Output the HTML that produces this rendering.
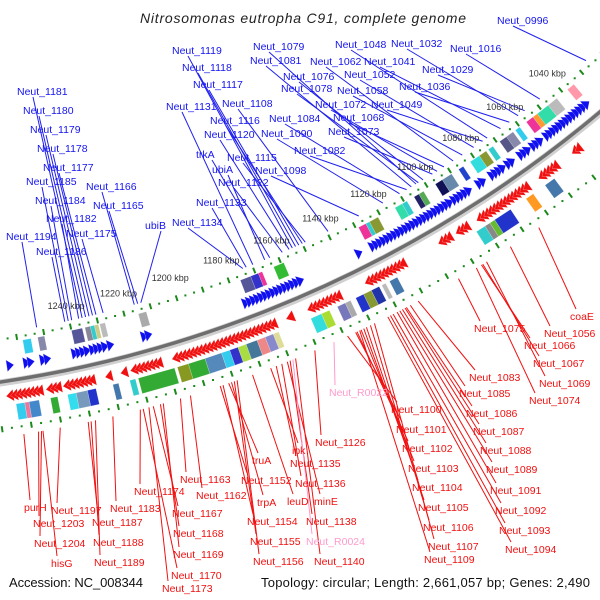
<!DOCTYPE html>
<html><head><meta charset="utf-8"><title>Nitrosomonas eutropha C91 genome map</title>
<style>
html,body{margin:0;padding:0;background:#fff;}
svg{display:block;}
text{font-family:"Liberation Sans","DejaVu Sans",sans-serif;}
</style></head>
<body>
<svg id="chart" width="600" height="600" viewBox="0 0 600 600" xmlns="http://www.w3.org/2000/svg">
<rect x="0" y="0" width="600" height="600" fill="#fff"/>
<g id="lines"></g>
<g id="rings"></g>
<g id="labels"></g>
<text x="303" y="23" text-anchor="middle" font-size="14" font-style="italic" fill="#222" textLength="326">Nitrosomonas eutropha C91, complete genome</text>
<text x="9" y="587" font-size="13" fill="#111" textLength="134">Accession: NC_008344</text>
<text x="261" y="587" font-size="13" fill="#111" textLength="329">Topology: circular; Length: 2,661,057 bp; Genes: 2,490</text>
</svg>
<script>
// ---- data ----
const tickLabelKbp = [1040,1060,1080,1100,1120,1140,1160,1180,1200,1220,1240];
const fwdStart = [1264,1258,1256.5,1252,1250.5,1240.5,1239,1237.5,1236,1234,1232.5,1231,1229.5,1227.5,1215,1213.5,1177,1175.5,1174,1172.5,1171,1169.5,1168,1166.5,1165,1163.5,1162,1160.5,1159,1157.5,1156,1133,1127.5,1126,1124.5,1123,1121.5,1120,1118.5,1117,1115.5,1114,1112.5,1111,1109.5,1108,1106.5,1105,1103.5,1102,1100.5,1099,1097.5,1096,1094,1092.5,1091,1089.5,1088,1083.5,1082,1078,1076.5,1075,1073.5,1071,1069.5,1065.5,1064,1062.5,1060,1058.5,1057,1054,1052.5,1051,1049.5,1048,1046.5,1045,1043.5,1042,1040.5,1039,1037.5,1036];
const fwdEnd = [1262.6,1256.6,1255.1,1250.6,1249.1,1239.1,1237.6,1236.1,1234.6,1232.6,1231.1,1229.6,1228.1,1226.1,1213.6,1212.1,1175.6,1174.1,1172.6,1171.1,1169.6,1168.1,1166.6,1165.1,1163.6,1162.1,1160.6,1159.1,1157.6,1156.1,1154.6,1131.6,1126.1,1124.6,1123.1,1121.6,1120.1,1118.6,1117.1,1115.6,1114.1,1112.6,1111.1,1109.6,1108.1,1106.6,1105.1,1103.6,1102.1,1100.6,1099.1,1097.6,1096.1,1094.6,1092.6,1091.1,1089.6,1088.1,1086.6,1082.1,1080.6,1076.6,1075.1,1073.6,1072.1,1069.6,1068.1,1064.1,1062.6,1061.1,1058.6,1057.1,1055.6,1052.6,1051.1,1049.6,1048.1,1046.6,1045.1,1043.6,1042.1,1040.6,1039.1,1037.6,1036.1,1034.6];
const revStart = [1267,1265.5,1264,1262.5,1261,1259.5,1258,1256.5,1253,1251.5,1250,1247,1245.5,1244,1242.5,1241,1239.5,1238,1232,1226.5,1223,1221.5,1220,1218.5,1217,1215.5,1214,1208,1206.5,1205,1203.5,1202,1200.5,1199,1197.5,1196,1194.5,1193,1191.5,1190,1188.5,1187,1185.5,1184,1182.5,1181,1179.5,1178,1176.5,1175,1173.5,1172,1166,1158,1156.5,1155,1153.5,1152,1150.5,1149,1147.5,1136,1134.5,1133,1131.5,1130,1128.5,1127,1125.5,1124,1122.5,1107,1105.5,1104,1100,1098.5,1097,1091.5,1090,1088.5,1087,1085.5,1084,1082.5,1081,1079.5,1078,1076.5,1075,1073.5,1072,1065.5,1064,1062.5,1061,1059.5,1051,1049.5];
const revEnd = [1265.6,1264.1,1262.6,1261.1,1259.6,1258.1,1256.6,1255.1,1251.6,1250.1,1248.6,1245.6,1244.1,1242.6,1241.1,1239.6,1238.1,1236.6,1230.6,1225.1,1221.6,1220.1,1218.6,1217.1,1215.6,1214.1,1212.6,1206.6,1205.1,1203.6,1202.1,1200.6,1199.1,1197.6,1196.1,1194.6,1193.1,1191.6,1190.1,1188.6,1187.1,1185.6,1184.1,1182.6,1181.1,1179.6,1178.1,1176.6,1175.1,1173.6,1172.1,1170.6,1163,1156.6,1155.1,1153.6,1152.1,1150.6,1149.1,1147.6,1146.1,1134.6,1133.1,1131.6,1130.1,1128.6,1127.1,1125.6,1124.1,1122.6,1121.1,1105,1103.5,1102.3,1098.5,1097,1095.5,1090.1,1088.6,1087.1,1085.6,1084.1,1082.6,1081.1,1079.6,1078.1,1076.6,1075.1,1073.6,1072.1,1070.6,1064.1,1062.6,1061.1,1059.6,1058.1,1049.6,1048.1];
const inBoxStart = [1258,1252.5,1240,1235,1233,1231.5,1229.5,1215,1176,1172,1169,1163,1129,1126,1124.5,1114,1111,1106,1104,1097,1094,1087,1082,1078,1074,1069,1066,1062,1057,1054,1052,1047,1038];
const inBoxEnd   = [1255,1250,1236,1233,1231.5,1230,1227.5,1212,1172,1169,1167.5,1159,1126,1124.5,1121,1111,1109,1104,1102,1094,1090,1085,1078,1075,1072,1066,1063,1060,1054,1052,1047,1043,1035];
const inBoxColor = ['#33ccee','#8888aa','#555599','#888899','#33cccc','#cccc88','#bbbbbb','#aaaaaa','#555599','#3333cc','#ee3399','#33bb33','#ee3399','#33cccc','#889933','#33ddaa','#33cccc','#222266','#55aa55','#111155','#6688aa','#2244cc','#33dddd','#889933','#33cccc','#555588','#8888aa','#33ccee','#ee3399','#ff9933','#33ddaa','#bbbbbb','#ff99aa'];
const outBoxStart = [1264,1261,1259.5,1252,1246,1243,1239,1230,1224,1221,1207,1203,1197,1191,1188,1185,1182,1178,1175,1172,1158,1154,1148,1145,1141,1138,1135,1131,1128,1093.5,1090,1088,1086,1073,1065];
const outBoxEnd   = [1261,1259.5,1256,1249.5,1243,1239,1236,1228,1222,1208,1203,1197,1191,1188,1185,1182,1178,1175,1172,1170,1154,1151,1145,1143,1138,1135,1132,1129.5,1125,1090,1088,1086,1079.5,1070,1061];
const outBoxColor = ['#33ccee','#ee7799','#4488cc','#33aa33','#33ddee','#7799bb','#2233cc','#4477aa','#33cccc','#33aa33','#889922','#33aa33','#5588bb','#33ccee','#3333cc','#aadd44','#447799','#ee8888','#8888cc','#dddd99','#33dddd','#aadd33','#7777bb','#aaaaaa','#2233cc','#889933','#2233aa','#bbbbbb','#4477aa','#33cccc','#888888','#66bb33','#2233cc','#ff9922','#4477aa'];

const blueNames = ['Neut_1119','Neut_1118','Neut_1117','Neut_1131','Neut_1108','Neut_1116','Neut_1120','trkA','Neut_1115','ubiA','Neut_1122','Neut_1133','Neut_1134','ubiB','Neut_1181','Neut_1180','Neut_1179','Neut_1178','Neut_1177','Neut_1185','Neut_1184','Neut_1182','Neut_1175','Neut_1194','Neut_1186','Neut_1166','Neut_1165','Neut_1079','Neut_1081','Neut_1076','Neut_1078','Neut_1084','Neut_1090','Neut_1082','Neut_1098','Neut_1062','Neut_1048','Neut_1032','Neut_1041','Neut_1052','Neut_1058','Neut_1072','Neut_1049','Neut_1068','Neut_1073','Neut_1036','Neut_1029','Neut_1016','Neut_0996'];
const blueX = [172,182,193,166,222,210,204,196,227,212,218,196,172,145,17,23,30,37,43,26,35,46,66,6,36,86,93,253,250,283,281,269,261,294,255,310,335,391,364,344,337,315,371,333,328,399,422,450,497];
const blueY = [50,67,84,106,103,120,134,154,157,169,182,202,222,225,91,110,129,148,167,181,200,218,233,236,251,186,205,46,60,76,88,118,133,150,170,61,44,43,61,74,90,104,104,117,131,86,69,48,20];
const blueKbp = [1154,1152.7,1151.4,1169.7,1139.6,1150,1155.3,1163,1148.8,1165,1158,1172.3,1173.6,1213,1235.2,1233.9,1232.6,1231.3,1230,1240.4,1239.1,1236.5,1227.3,1252.2,1241.7,1215.5,1214.2,1103,1105,1100,1102,1110,1117,1107,1127,1087,1072,1058,1066,1078,1083,1094,1074,1091,1096,1062,1055,1048,1026];

const redNames = ['purH','Neut_1197','Neut_1203','Neut_1204','hisG','Neut_1183','Neut_1187','Neut_1188','Neut_1189','Neut_1174','Neut_1163','Neut_1162','Neut_1167','Neut_1168','Neut_1169','Neut_1170','Neut_1173','truA','Neut_1152','trpA','Neut_1154','Neut_1155','Neut_1156','ipk','Neut_1135','Neut_1136','leuD','minE','Neut_1138','Neut_R0024','Neut_1140','Neut_1126','Neut_R0022','Neut_1100','Neut_1101','Neut_1102','Neut_1103','Neut_1104','Neut_1105','Neut_1106','Neut_1107','Neut_1109','Neut_1075','coaE','Neut_1056','Neut_1066','Neut_1067','Neut_1069','Neut_1074','Neut_1083','Neut_1085','Neut_1086','Neut_1087','Neut_1088','Neut_1089','Neut_1091','Neut_1092','Neut_1093','Neut_1094'];
const redX = [24,51,33,34,51,110,92,93,94,134,180,196,172,173,173,171,162,252,241,257,247,250,253,292,290,295,287,314,306,306,314,315,329,391,396,402,408,412,418,423,428,424,474,570,544,524,533,539,529,469,459,466,473,480,486,490,495,499,505];
const redY = [507,510,523,543,563,508,522,542,562,491,479,495,513,533,554,575,588,460,480,502,521,541,561,450,463,483,501,501,521,541,561,442,392,409,429,448,468,487,507,527,546,559,328,316,333,345,363,383,400,377,393,413,431,450,469,490,510,530,549];
const redKbp = [1263,1250.6,1258,1257,1256.5,1232.5,1241,1240,1238.5,1223,1209,1205.5,1218.5,1216,1215,1222,1220,1192,1195,1191,1194,1190,1189,1177,1175,1173,1183.5,1171,1170,1169,1168,1161,1154,1149,1146,1145.5,1144,1143,1142,1140.5,1139,1144.5,1107,1075,1086.5,1098,1097.5,1096,1100,1122.5,1125.5,1127,1127.5,1128.5,1129.5,1130.5,1132,1133,1134];

// ---- geometry ----
const NS='http://www.w3.org/2000/svg';
const CX=-176, CY=-810, R=1205;
function ang(k){return (50.7+(k-1040)*0.1353)*Math.PI/180;}
function pt(r,k){const a=ang(k);return [CX+r*Math.cos(a), CY+r*Math.sin(a)];}
function mk(tag,attrs,parent){const e=document.createElementNS(NS,tag);for(const k in attrs)e.setAttribute(k,attrs[k]);parent.appendChild(e);return e;}
function P(p){return p[0].toFixed(1)+','+p[1].toFixed(1);}
const gLines=document.getElementById('lines'), gRings=document.getElementById('rings'), gLab=document.getElementById('labels');

let bb=mk('circle',{cx:CX,cy:CY,r:R+1,fill:'none',stroke:'#d0d0d0','stroke-width':7},gRings);


bb=mk('circle',{cx:CX,cy:CY,r:R,fill:'none',stroke:'#6e6e6e','stroke-width':3.5},gRings);



function tickRing(r,name){
  for(let i=0;i<=90;i++){
    const k=990+i*10/3;
    const major=(i%3===0);
    let e;
    if(major){const a=pt(r-3,k),b=pt(r+3,k);e=mk('line',{x1:a[0],y1:a[1],x2:b[0],y2:b[1],stroke:'#1a8a1a','stroke-width':2},gRings);}
    else{const a=pt(r,k);e=mk('rect',{x:a[0]-1,y:a[1]-1,width:2,height:2,fill:'#1a8a1a'},gRings);}
    
    
  }
}
tickRing(R-42,'inner-tick');
tickRing(R+47,'outer-tick');

tickLabelKbp.forEach(k=>{
  const p=pt(R-63,k);
  const t=mk('text',{x:p[0],y:p[1]+3,'text-anchor':'middle','font-size':9,fill:'#333'},gRings);
  t.textContent=k+' kbp';
  
  
});

function box(s,e,rc,hw,color,name){
  const pts=[pt(rc-hw,s),pt(rc+hw,s),pt(rc+hw,e),pt(rc-hw,e)].map(P).join(' ');
  const el=mk('polygon',{points:pts,fill:color,stroke:'rgba(255,255,255,0.4)','stroke-width':0.5},gRings);
  
  
}
inBoxStart.forEach((s,i)=>box(s,inBoxEnd[i],R-31,7,inBoxColor[i],'cog-box-forward'));
outBoxStart.forEach((s,i)=>box(s,outBoxEnd[i],R+32,8,outBoxColor[i],'cog-box-reverse'));

// pure triangle gene arrows; tail extended so neighbours overlap as a sawtooth
function arrow(tail,head,rc,color,name){
  const dir=Math.sign(tail-head)||1;
  const t2=head+dir*Math.max(Math.abs(tail-head),2.6);
  const hw=6;
  const pts=[pt(rc-hw,t2),pt(rc+hw,t2),pt(rc,head)].map(P).join(' ');
  const el=mk('polygon',{points:pts,fill:color,stroke:'rgba(255,255,255,0.6)','stroke-width':0.4},gRings);
  
  
}
fwdStart.forEach((s,i)=>{ if(i<fwdEnd.length) arrow(s,fwdEnd[i],R-15,'#1010ee','forward-gene-arrow'); });
revStart.forEach((s,i)=>{ if(i<revEnd.length) arrow(revEnd[i],s,R+15,'#f01010','reverse-gene-arrow'); });

blueNames.forEach((n,i)=>{
  const x=blueX[i],y=blueY[i];
  const e=pt(R-48,blueKbp[i]);
  const l=mk('line',{x1:x+16,y1:y+6,x2:e[0],y2:e[1],stroke:'#2020ee','stroke-width':1},gLines);
  
  
  const t=mk('text',{x:x,y:y+4,'font-size':10.5,fill:'#1414f0'},gLab);
  t.textContent=n;
  
  
});
redNames.forEach((n,i)=>{
  const x=redX[i],y=redY[i];
  const pink=n.indexOf('R00')>=0;
  const col=pink?'#ff9acb':'#f01010';
  const s=pt(R+55,redKbp[i]);
  const l=mk('line',{x1:s[0],y1:s[1],x2:x+6,y2:y-7,stroke:col,'stroke-width':1},gLines);
  
  
  const t=mk('text',{x:x,y:y+4,'font-size':10.5,fill:col},gLab);
  t.textContent=n;
  
  
});
</script>
</body></html>
